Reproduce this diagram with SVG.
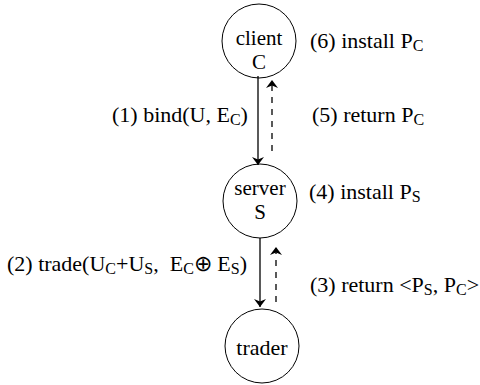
<svg xmlns="http://www.w3.org/2000/svg" width="480" height="385" viewBox="0 0 480 385">
<defs>
<marker id="ah" viewBox="0 0 8 12" refX="8" refY="6" markerWidth="8" markerHeight="12" markerUnits="userSpaceOnUse" orient="auto">
<path d="M0,0 L8,6 L0,12 L2.5,6 Z" fill="#000"/>
</marker>
</defs>
<style>
text{font-family:"Liberation Serif","Times New Roman",Times,serif;font-size:22px;fill:#000;white-space:pre}
.c{text-anchor:middle}
.n{font-size:21px}
.s{font-size:16px}
circle{fill:#fff;stroke:#000;stroke-width:1}
.solid{stroke:#000;stroke-width:1.3;fill:none}
.dash{stroke:#000;stroke-width:1.3;fill:none;stroke-dasharray:6,6}
</style>
<rect width="480" height="385" fill="#fff"/>
<g id="client">
<circle cx="259" cy="41" r="37"/>
<text class="c n" x="259" y="45">client</text>
<text class="c n" x="259" y="68.6">C</text>
</g>
<g id="server">
<circle cx="260" cy="201" r="37"/>
<text class="c n" x="260" y="195">server</text>
<text class="c n" x="260" y="218.6">S</text>
</g>
<g id="trader">
<circle cx="262" cy="346" r="37"/>
<text class="c" x="262" y="355">trader</text>
</g>
<g id="connectors">
<line class="solid" x1="258" y1="76" x2="258" y2="165" marker-end="url(#ah)"/>
<line class="dash" x1="272" y1="151" x2="272" y2="80" marker-end="url(#ah)"/>
<line class="solid" x1="260" y1="238" x2="260" y2="307" marker-end="url(#ah)"/>
<line class="dash" x1="276" y1="302" x2="276" y2="247" marker-end="url(#ah)"/>
</g>
<g id="labels">
<text x="310" y="48">(6) install P<tspan class="s" dy="3">C</tspan></text>
<text x="112" y="122">(1) bind(U, E<tspan class="s" dy="3">C</tspan><tspan dy="-3">)</tspan></text>
<text x="312" y="122">(5) return P<tspan class="s" dy="3">C</tspan></text>
<text x="309" y="199">(4) install P<tspan class="s" dy="3">S</tspan></text>
<text x="7" y="271">(2) trade(U<tspan class="s" dy="3">C</tspan><tspan dy="-3">+U</tspan><tspan class="s" dy="3">S</tspan><tspan dy="-3">,  E</tspan><tspan class="s" dy="3">C</tspan><tspan dy="-3">⊕ E</tspan><tspan class="s" dy="3">S</tspan><tspan dy="-3">)</tspan></text>
<text x="310" y="292">(3) return &lt;P<tspan class="s" dy="3">S</tspan><tspan dy="-3">, P</tspan><tspan class="s" dy="3">C</tspan><tspan dy="-3">&gt;</tspan></text>
</g>
</svg>
